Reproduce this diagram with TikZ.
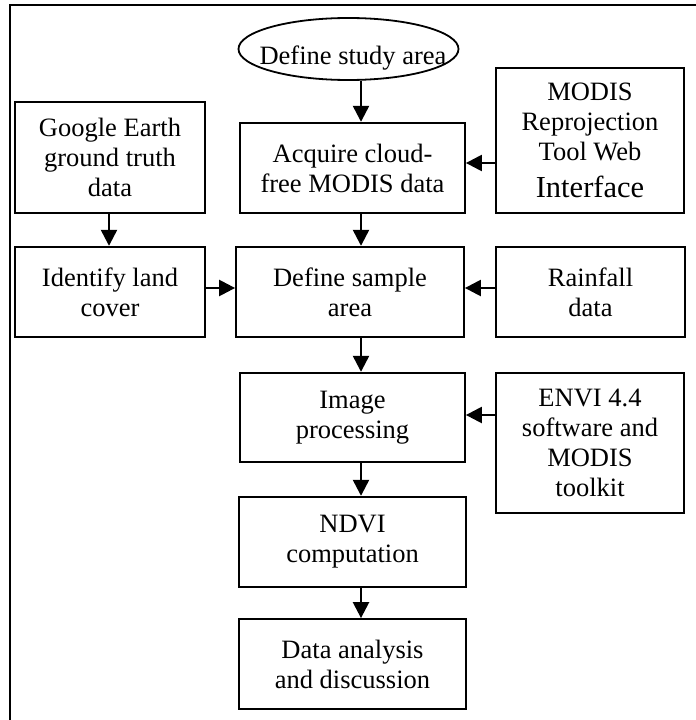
\documentclass[tikz,border=0pt]{standalone}
\usepackage{fontspec}
\setmainfont{Liberation Serif}
\usetikzlibrary{arrows.meta,shapes.geometric}

\tikzset{
  txt/.style={font=\fontsize{26.5bp}{30bp}\selectfont, align=center, inner sep=0pt},
  stepbox/.style={draw, line width=1.8bp, rectangle, inner sep=0pt, txt},
  arr/.style={line width=2.4bp, -{Triangle[width=16bp,length=16bp]}},
  frameline/.style={line width=1.6bp}
}

\begin{document}
\begin{tikzpicture}[x=1bp,y=-1bp]
  \useasboundingbox (0,0) rectangle (696,720);

  % outer frame (top and left edges)
  \draw[frameline] (700,5) -- (9.8,5) -- (9.8,725);

  % start node
  \node[draw, ellipse, line width=1.8bp, minimum width=220bp, minimum height=62bp, inner sep=0pt]
    (ell) at (348.5,49) {};
  \node[txt, anchor=base] (ellt) at (353,65) {Define study area};

  % first row
  \node[stepbox, minimum width=190bp, minimum height=111.6bp] (ge) at (110,157.5)
    {Google Earth\\ground truth\\data};
  \node[stepbox, minimum width=225bp, minimum height=90.6bp] (acq) at (352.5,168)
    {Acquire cloud-\\free MODIS data};
  \node[stepbox, minimum width=188bp, minimum height=145bp] (mrt) at (590,140.8)
    {MODIS\\Reprojection\\Tool Web\\[7bp]{\fontsize{30.5bp}{30bp}\selectfont Interface}};

  % second row
  \node[stepbox, minimum width=190bp, minimum height=90.6bp] (idl) at (110,292)
    {Identify land\\cover};
  \node[stepbox, minimum width=228bp, minimum height=90.6bp] (dsa) at (350,292)
    {Define sample\\area};
  \node[stepbox, minimum width=189bp, minimum height=90.6bp] (rain) at (590.5,292)
    {Rainfall\\data};

  % processing chain
  \node[stepbox, minimum width=225bp, minimum height=89.6bp] (img) at (352.5,417.5)
    {Image\\processing};
  \node[stepbox, minimum width=188bp, minimum height=140bp] (envi) at (590,443.3)
    {ENVI 4.4\\software and\\MODIS\\toolkit};
  \node[stepbox, minimum width=227bp, minimum height=90bp] (ndvi) at (352.5,541.7)
    {NDVI\\computation};
  \node[stepbox, minimum width=227bp, minimum height=90bp] (dat) at (352.5,664)
    {Data analysis\\and discussion};

  % reference lines for the connectors
  \coordinate (colx) at (361,0);
  \coordinate (gex) at (109,0);
  \coordinate (r1) at (0,163);
  \coordinate (r2) at (0,288);
  \coordinate (r3) at (0,415);

  % vertical flow
  \draw[arr] (ell.south -| colx) -- (acq.north -| colx);
  \draw[arr] (acq.south -| colx) -- (dsa.north -| colx);
  \draw[arr] (dsa.south -| colx) -- (img.north -| colx);
  \draw[arr] (img.south -| colx) -- (ndvi.north -| colx);
  \draw[arr] (ndvi.south -| colx) -- (dat.north -| colx);
  \draw[arr] (ge.south -| gex) -- (idl.north -| gex);

  % side inputs
  \draw[arr] (mrt.west |- r1) -- (acq.east |- r1);
  \draw[arr] (idl.east |- r2) -- (dsa.west |- r2);
  \draw[arr] (rain.west |- r2) -- (dsa.east |- r2);
  \draw[arr] (envi.west |- r3) -- (img.east |- r3);
\end{tikzpicture}
\end{document}
